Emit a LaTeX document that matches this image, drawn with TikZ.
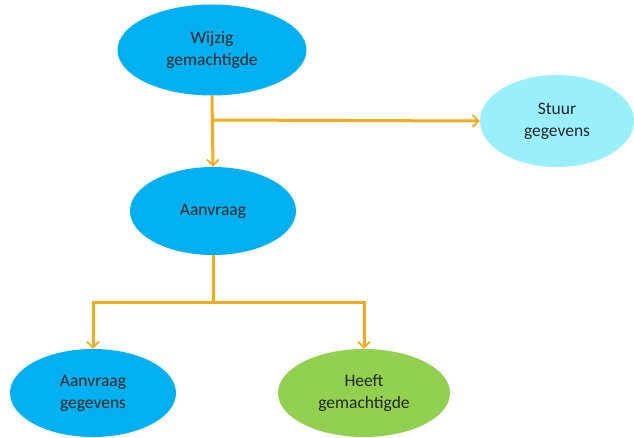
\documentclass[tikz,border=0pt]{standalone}
\usepackage{fontspec}
\setmainfont{Carlito}
\usetikzlibrary{shapes.geometric,arrows.meta}

\definecolor{task} {RGB}{0,176,240}
\definecolor{send} {RGB}{153,240,250}
\definecolor{check}{RGB}{146,208,80}
\definecolor{flow} {RGB}{248,170,30}

\begin{document}
\begin{tikzpicture}[x=1pt,y=-1pt,
    bubble/.style={ellipse,draw=none,align=center,text=black!85,
      font=\fontsize{17.5}{22}\selectfont,inner sep=0pt},
    link/.style={draw=flow,line width=3pt,
      arrows={-{Straight Barb[length=6pt,width=12pt,line width=1.8pt]}}}]

    \useasboundingbox (0,0) rectangle (634,437);

    \node[bubble,fill=task,minimum width=189,minimum height=91]  (wijzig)   at (212,50)  {Wijzig\\gemachtigde};
    \node[bubble,fill=send,minimum width=154,minimum height=92]  (stuur)    at (557,121) {Stuur\\gegevens};
    \node[bubble,fill=task,minimum width=166,minimum height=88]  (aanvraag) at (213,211) {Aanvraag};
    \node[bubble,fill=task,minimum width=166,minimum height=88]  (gegevens) at (93,393)  {Aanvraag\\gegevens};
    \node[bubble,fill=check,minimum width=172,minimum height=88] (heeft)    at (364,393) {Heeft\\gemachtigde};

    \coordinate (split1) at (wijzig.south |- 0,120);
    \coordinate (split2) at (aanvraag.south |- 0,302);

    \draw[link] (wijzig.south) -- (aanvraag.north);
    \draw[link] (split1) -- (stuur.west);
    \draw[draw=flow,line width=3pt] (aanvraag.south) -- (split2);
    \draw[link] (split2) -| (gegevens.north);
    \draw[link] (split2) -| (heeft.north);

\end{tikzpicture}
\end{document}
